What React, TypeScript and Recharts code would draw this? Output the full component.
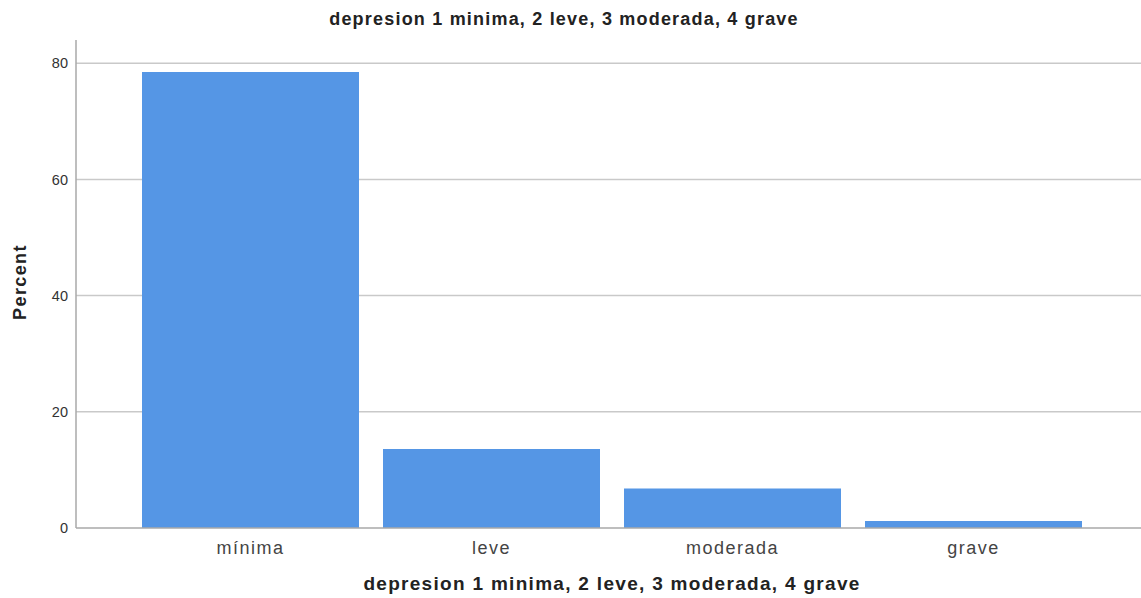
import React from "react";
import { BarChart, Bar, XAxis, YAxis, CartesianGrid } from "recharts";

const categories = ["mínima", "leve", "moderada", "grave"];
const percents = [78.5, 13.6, 6.8, 1.2];
const yTicks = [0, 20, 40, 60, 80];
const gridValues = [20, 40, 60, 80];

const title = "depresion 1 minima, 2 leve, 3 moderada, 4 grave";

const data = categories.map((c, i) => ({ name: c, percent: percents[i] }));

const font = "'Liberation Sans', Arial, sans-serif";

const App = () => {
  return (
    <div style={{ position: "absolute", left: 0, top: 0, width: 1141, height: 598, fontFamily: font, background: "#fff" }}>
      <BarChart
        width={1141}
        height={598}
        data={data}
        margin={{ top: 40, right: 0, left: 0, bottom: 0 }}
        barCategoryGap={12}
      >
        <CartesianGrid vertical={false} horizontalValues={gridValues} stroke="#c9c9c9" strokeWidth={1.5} />
        <XAxis
          dataKey="name"
          height={70}
          padding={{ left: 54, right: 47 }}
          tickLine={false}
          tickSize={6}
          tickMargin={7}
          stroke="#a8a8a8"
          strokeWidth={1.5}
          tick={{ fontSize: 18, fill: "#444", fontFamily: font, letterSpacing: 1.5 }}
        />
        <YAxis
          width={76}
          domain={[0, 84]}
          ticks={yTicks}
          tickLine={false}
          stroke="#a8a8a8"
          strokeWidth={1.5}
          tick={{ fontSize: 14.5, fill: "#333", fontFamily: font }}
        />
        <Bar dataKey="percent" fill="#5596e5" isAnimationActive={false} />
      </BarChart>
      <div
        style={{
          position: "absolute",
          left: 0,
          width: 1128,
          top: 9,
          textAlign: "center",
          fontWeight: "bold",
          fontSize: 18,
          letterSpacing: 1.2,
          color: "#222",
        }}
      >
        {title}
      </div>
      <div
        style={{
          position: "absolute",
          left: 0,
          width: 1224,
          top: 573,
          textAlign: "center",
          fontWeight: "bold",
          fontSize: 19,
          letterSpacing: 1.3,
          color: "#222",
        }}
      >
        {title}
      </div>
      <div
        style={{
          position: "absolute",
          left: 20,
          top: 282,
          transform: "translate(-50%, -50%) rotate(-90deg)",
          fontWeight: "bold",
          fontSize: 18,
          letterSpacing: 1.4,
          color: "#222",
          whiteSpace: "nowrap",
        }}
      >
        Percent
      </div>
    </div>
  );
};

export default App;
